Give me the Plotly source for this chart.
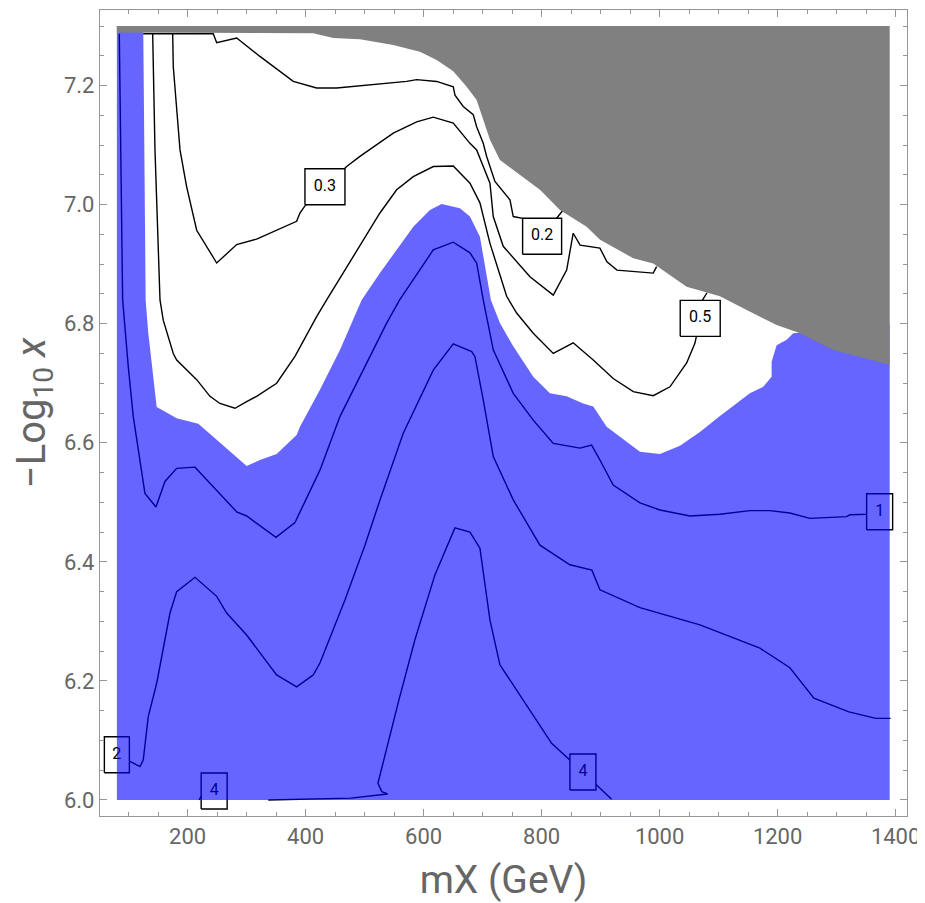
import plotly.graph_objects as go

# ---------------- data ----------------
# Filled regions
blue_x = [80, 80, 124.7, 128.8, 133.2, 144.6, 147.5, 181.4, 218, 243.4, 300, 322.5, 350.8, 384.7, 390.3,
          424.2, 458.1, 494.9, 525.9, 582.4, 610.7, 630.5, 661.5, 678.5, 695.4, 714, 729.3, 751.9, 785.8,
          814.1, 842.4, 870.5, 887.5, 910.2, 932.7, 966.7, 1000.5, 1034.4, 1068.3, 1102.2, 1153, 1175.6,
          1189.8, 1189.8, 1198.3, 1215.3, 1226.4, 1237.8, 1260, 1390, 1390]
blue_y = [6.0, 7.3, 7.3, 6.840, 6.785, 6.678, 6.660, 6.641, 6.632, 6.610, 6.561, 6.571, 6.581, 6.613, 6.627,
          6.689, 6.756, 6.840, 6.885, 6.963, 6.991, 7.001, 6.994, 6.980, 6.946, 6.840, 6.801, 6.762, 6.711,
          6.683, 6.678, 6.666, 6.661, 6.627, 6.610, 6.585, 6.581, 6.595, 6.618, 6.645, 6.683, 6.694,
          6.711, 6.736, 6.764, 6.773, 6.784, 6.785, 6.80, 6.80, 6.0]

gray_x = [80, 1390, 1390, 1294.6, 1238.1, 1198.3, 1147.5, 1102.2, 1045.8, 989.2, 955.3, 899.0, 876.3, 831,
          797.1, 751.9, 729.3, 712.4, 701, 689.8, 672.9, 650.2, 622, 593.7, 548.5, 492, 446.8, 412.9, 80]
gray_y = [7.3, 7.3, 6.731, 6.756, 6.784, 6.798, 6.823, 6.846, 6.862, 6.901, 6.910, 6.941, 6.963, 6.991,
          7.025, 7.058, 7.075, 7.109, 7.142, 7.176, 7.198, 7.224, 7.243, 7.257, 7.268, 7.278, 7.280, 7.288, 7.289]

# Contour lines
c05_x = [140.7, 144.6, 153.1, 158.6, 175.6, 181.4, 215.3, 237.8, 254.7, 280.2, 300, 316.9, 350.8, 381.9,
         418.6, 435.6, 525.9, 554.2, 582.4, 616.3, 650.2, 678.5, 695.4, 712.4, 740.7, 757.6, 785.8, 819.7,
         853.5, 887.5, 921.3, 955.3, 989.2, 1017.5, 1045.8, 1059.8, 1068.8, 1071.7, 1080.2]
c05_y = [7.287, 7.092, 6.840, 6.806, 6.750, 6.739, 6.706, 6.678, 6.666, 6.658, 6.669, 6.678, 6.700, 6.745,
         6.812, 6.840, 6.986, 7.025, 7.047, 7.064, 7.065, 7.036, 7.003, 6.935, 6.846, 6.818, 6.784, 6.750,
         6.768, 6.739, 6.708, 6.686, 6.679, 6.694, 6.734, 6.767, 6.809, 6.838, 6.852]

c03_x = [174.6, 175.6, 187, 198.3, 215.3, 249.2, 283.1, 316.9, 384.7, 390.3, 398.8, 432.7, 469.5, 492,
         548.5, 588.1, 616.3, 650.2, 678.5, 689.8, 712.4, 718, 734.9, 780.2, 819.7, 842.4, 853.5, 865.2,
         898.8, 910.7, 927.6, 989.2, 994.9]
c03_y = [7.287, 7.232, 7.092, 7.030, 6.957, 6.902, 6.933, 6.942, 6.972, 6.986, 6.998, 7.030, 7.064, 7.081,
         7.120, 7.139, 7.147, 7.137, 7.103, 7.092, 7.036, 6.980, 6.930, 6.879, 6.848, 6.890, 6.952, 6.932,
         6.927, 6.904, 6.890, 6.885, 6.896]

c02_x = [124.7, 243.4, 249.2, 283.1, 322.5, 379, 418.6, 452.5, 571.2, 588.1, 622, 650.2, 653.1, 667.1,
         684.1, 689.8, 701, 706.8, 720.8, 746.3, 751.9, 767.8, 800.8, 833.9, 836.6]
c02_y = [7.287, 7.287, 7.272, 7.280, 7.249, 7.207, 7.196, 7.196, 7.207, 7.210, 7.207, 7.198, 7.184, 7.165,
         7.151, 7.131, 7.103, 7.081, 7.039, 7.008, 6.980, 6.977, 6.947, 6.986, 6.991]

c1_x = [84.1, 89.8, 99.3, 107.8, 127.6, 146.3, 161.5, 181.4, 212.4, 283.1, 300, 349.7, 381.9, 424.2, 458.1,
        503.4, 537.3, 559.3, 616.3, 650.2, 678.5, 689.8, 701, 718, 751.9, 785.8, 819.7, 865.2, 884.7, 898.8,
        921.3, 966.7, 1000.5, 1051.3, 1102.2, 1153, 1186.9, 1220.8, 1254.7, 1316.9, 1322.5, 1350.8, 1372.9]
c1_y = [7.287, 6.840, 6.728, 6.644, 6.515, 6.492, 6.535, 6.557, 6.559, 6.484, 6.477, 6.441, 6.466, 6.554,
        6.644, 6.734, 6.801, 6.840, 6.924, 6.937, 6.919, 6.902, 6.840, 6.756, 6.683, 6.638, 6.599, 6.591,
        6.596, 6.571, 6.529, 6.499, 6.487, 6.477, 6.480, 6.486, 6.486, 6.482, 6.473, 6.476, 6.479, 6.480, 6.484]

c2_x = [80, 105.1, 119.2, 124.7, 133.2, 147.5, 170, 181.4, 212.4, 249.2, 266.1, 300, 350.8, 384.7, 412.9,
        424.2, 466.6, 500.5, 526, 565.4, 616.3, 650.2, 681.4, 686.9, 701, 718, 751.9, 797.1, 847.9, 885.2,
        898.8, 966.7, 1068.3, 1170, 1220.8, 1261.5, 1320.8, 1366.6, 1391.5]
c2_y = [6.076, 6.063, 6.056, 6.067, 6.140, 6.196, 6.314, 6.350, 6.374, 6.342, 6.314, 6.277, 6.210, 6.190,
        6.210, 6.230, 6.336, 6.428, 6.504, 6.616, 6.722, 6.766, 6.753, 6.745, 6.672, 6.577, 6.504, 6.428,
        6.395, 6.386, 6.353, 6.323, 6.294, 6.255, 6.222, 6.171, 6.148, 6.137, 6.137]

c4_x = [336.6, 424.2, 476.6, 538.8, 529, 522.5, 558.1, 585.2, 619.1, 653, 678.5, 695.4, 712.4, 729.3,
        767.8, 816.9, 870.0, 894.9, 918.6]
c4_y = [6.000, 6.002, 6.003, 6.010, 6.014, 6.028, 6.168, 6.269, 6.378, 6.457, 6.450, 6.423, 6.302, 6.227,
        6.168, 6.095, 6.047, 6.024, 6.001]

c4b_x = [219.2, 223.1, 244.9]
c4b_y = [6.000, 6.006, 6.015]

# Contour labels
label_text = ["0.3", "0.2", "0.5", "1", "2", "4", "4"]
label_x = [432.7, 800.8, 1068.8, 1372.9, 80, 870.0, 244.9]
label_y = [7.030, 6.947, 6.809, 6.484, 6.076, 6.047, 6.015]

# ---------------- styles ----------------
label_box_px = [40, 39, 40, 26, 25, 26, 26]   # box widths in pixels
BOX_H_PX = 36
GEV_PER_PX = 1.6949
Y_PER_PX = 0.00168

BLUE = "rgba(0,0,255,0.6)"
GRAY = "rgb(128,128,128)"
TXT = "rgb(102,102,102)"
FRAME = "rgb(150,150,150)"
FONT = "Roboto"

fig = go.Figure()

# contour lines (black; blue overlay tints them navy)
for xs, ys in [(c05_x, c05_y), (c03_x, c03_y), (c02_x, c02_y), (c1_x, c1_y),
               (c2_x, c2_y), (c4_x, c4_y), (c4b_x, c4b_y)]:
    fig.add_trace(go.Scatter(x=xs, y=ys, mode="lines",
                             line=dict(color="black", width=1.4),
                             hoverinfo="skip", showlegend=False))

# label boxes
for t, cx, cy, wpx in zip(label_text, label_x, label_y, label_box_px):
    hw = wpx / 2 * GEV_PER_PX
    hh = BOX_H_PX / 2 * Y_PER_PX
    fig.add_trace(go.Scatter(x=[cx - hw, cx + hw, cx + hw, cx - hw, cx - hw],
                             y=[cy - hh, cy - hh, cy + hh, cy + hh, cy - hh],
                             mode="lines", fill="toself", fillcolor="white",
                             line=dict(color="black", width=1.4),
                             hoverinfo="skip", showlegend=False))
fig.add_trace(go.Scatter(x=label_x, y=label_y, text=label_text, mode="text",
                         textfont=dict(family=FONT, size=16, color="black"),
                         hoverinfo="skip", showlegend=False))

# blue region (semi-transparent overlay)
fig.add_trace(go.Scatter(x=blue_x, y=blue_y, mode="lines", fill="toself",
                         fillcolor=BLUE, line=dict(width=0),
                         hoverinfo="skip", showlegend=False))
# gray excluded region
fig.add_trace(go.Scatter(x=gray_x, y=gray_y, mode="lines", fill="toself",
                         fillcolor=GRAY, line=dict(width=0),
                         hoverinfo="skip", showlegend=False))

axis_common = dict(showgrid=False, zeroline=False, showline=True, linecolor=FRAME, linewidth=1.3,
                   mirror="ticks", ticks="inside", ticklen=7, tickwidth=1, tickcolor=FRAME,
                   automargin=False, ticklabeloverflow="allow",
                   tickfont=dict(family=FONT, size=22, color=TXT))

# the page body adds an 8 px offset, so the figure is placed accordingly
fig.update_layout(
    width=917, height=895,
    margin=dict(l=92, r=18.3, t=2, b=87),
    paper_bgcolor="white", plot_bgcolor="white",
    xaxis=dict(range=[51.4, 1419.3], tick0=0, dtick=200,
               minor=dict(ticks="inside", dtick=50, tick0=0, ticklen=4, tickcolor=FRAME),
               title=dict(text="mX (GeV)", font=dict(family=FONT, size=39, color=TXT), standoff=27),
               **axis_common),
    yaxis=dict(range=[5.973, 7.327], tick0=6, dtick=0.2, tickformat=".1f",
               minor=dict(ticks="inside", dtick=0.05, tick0=6, ticklen=4, tickcolor=FRAME),
               title=dict(text="\u2212Log<sub>10</sub> <i>x</i>", font=dict(family=FONT, size=40, color=TXT),
                          standoff=18),
               **axis_common),
)

fig.write_html("out.html")
